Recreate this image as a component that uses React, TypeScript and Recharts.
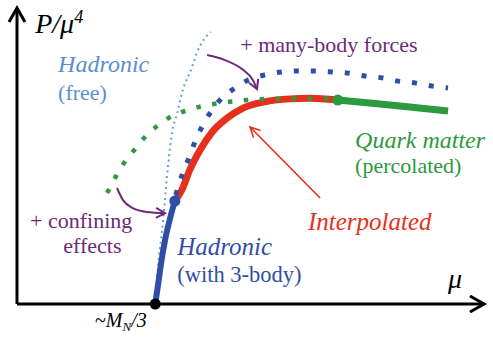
import { ComposedChart, Line, XAxis, YAxis, ReferenceDot } from 'recharts';

// [mu, P/mu^4] in schematic units, origin at the axes corner
const hadronicFree = [
  [2.96, 0], [3.02, 1.25], [3.13, 2.84], [3.21, 4.29], [3.32, 5.78],
  [3.43, 6.45], [3.55, 7.23], [3.75, 8.01], [3.85, 8.48], [4.15, 9.19],
];
const hadronic3Body = [
  [2.96, 0], [3.02, 0.64], [3.08, 1.32], [3.17, 2.16], [3.28, 2.91], [3.38, 3.48],
];
const interpolated = [
  [3.38, 3.48], [3.53, 3.85], [3.7, 4.53], [3.92, 5.2], [4.18, 5.81], [4.5, 6.28],
  [4.84, 6.62], [5.27, 6.82], [5.85, 6.93], [6.27, 6.95], [6.87, 6.89],
];
const quarkMatter = [[6.87, 6.89], [7.99, 6.72], [9.23, 6.52]];
const confiningEffects = [
  [1.93, 3.75], [2.1, 4.26], [2.29, 4.76], [2.51, 5.2], [2.74, 5.64], [3.0, 6.01],
  [3.32, 6.35], [3.66, 6.55], [3.98, 6.69], [4.35, 6.79], [4.71, 6.86], [5.46, 6.93],
  [6.17, 6.93], [6.87, 6.93],
];
const manyBodyForces = [
  [3.4, 3.68], [3.55, 4.43], [3.68, 4.93], [3.81, 5.47], [3.96, 5.98], [4.15, 6.49],
  [4.37, 6.93], [4.67, 7.3], [4.95, 7.57], [5.31, 7.74], [5.67, 7.84], [6.02, 7.87],
  [6.38, 7.87], [6.75, 7.84], [7.09, 7.8], [7.45, 7.7], [7.82, 7.64], [8.16, 7.53],
  [8.52, 7.47], [8.89, 7.36], [9.23, 7.3],
];

// annotation arrows
const manyBodyArrow = [[4.07, 8.41], [4.45, 8.24], [4.84, 7.91], [5.05, 7.57], [5.14, 7.26]];
const confiningArrow = [[2.14, 3.92], [2.27, 3.51], [2.48, 3.24], [2.78, 3.11], [3.17, 3.07]];
const interpolatedArrow = [[6.49, 3.58], [4.99, 5.98]];

const muAxis = [[0, 0], [10, 0]];
const pAxis = [[0, 0], [0, 10]];

const nuclearOnset = [2.96, 0];
const hadronicEnd = [3.38, 3.48];
const percolationPoint = [6.87, 6.89];

const toPoints = (pts: number[][]) => pts.map(([mu, p]) => ({ mu, p }));

const BLUE = '#2f4fa6';
const LIGHT_BLUE = '#6c9bd2';
const RED = '#e6301c';
const GREEN = '#2c9a3e';
const PURPLE = '#6c2a78';
const SERIF = 'Liberation Serif';

type Note = {
  x: number;
  y: number;
  color: string;
  italic?: boolean;
  size?: number;
  content: React.ReactNode;
};

const notes: Note[] = [
  {
    x: 0.39, y: 9.16, color: '#000', italic: true, size: 28,
    content: <>P/μ<tspan dy={-10} fontSize={18}>4</tspan></>,
  },
  { x: 0.88, y: 7.84, color: '#5b8ed0', italic: true, size: 24, content: 'Hadronic' },
  { x: 0.88, y: 6.89, color: '#5b8ed0', content: '(free)' },
  { x: 4.78, y: 8.51, color: PURPLE, content: '+ many-body forces' },
  { x: 7.24, y: 5.27, color: GREEN, italic: true, size: 24, content: 'Quark matter' },
  { x: 7.24, y: 4.43, color: GREEN, content: '(percolated)' },
  { x: 6.23, y: 2.5, color: RED, italic: true, size: 25, content: 'Interpolated' },
  { x: 3.43, y: 1.66, color: BLUE, italic: true, size: 25, content: 'Hadronic' },
  { x: 3.43, y: 0.74, color: BLUE, size: 22.5, content: '(with 3-body)' },
  { x: 0.28, y: 2.57, color: PURPLE, content: '+ confining' },
  { x: 0.99, y: 1.72, color: PURPLE, content: 'effects' },
  {
    x: 1.67, y: -0.78, color: '#000', size: 20,
    content: <>~<tspan fontStyle="italic">M</tspan><tspan fontStyle="italic" fontSize={13} dy={4}>N</tspan><tspan dy={-4} fontStyle="italic">/3</tspan></>,
  },
  { x: 9.23, y: 0.54, color: '#000', italic: true, size: 28, content: 'μ' },
];

function Markers() {
  return (
    <svg width={0} height={0} style={{ position: 'absolute' }}>
      <defs>
        <marker id="axisHead" markerUnits="userSpaceOnUse" viewBox="-18 -11 22 22"
          markerWidth={22} markerHeight={22} refX={0} refY={0} orient="auto">
          <path d="M -14 -8 L 0 0 L -14 8" fill="none" stroke="#000" strokeWidth={3} />
        </marker>
        <marker id="purpleHead" markerUnits="userSpaceOnUse" viewBox="-12 -8 16 16"
          markerWidth={16} markerHeight={16} refX={0} refY={0} orient="auto">
          <path d="M -9 -5 L 0 0 L -9 5" fill="none" stroke={PURPLE} strokeWidth={2} />
        </marker>
        <marker id="redHead" markerUnits="userSpaceOnUse" viewBox="-12 -8 16 16"
          markerWidth={16} markerHeight={16} refX={0} refY={0} orient="auto">
          <path d="M -10 -5 L 0 0 L -10 5" fill="none" stroke={RED} strokeWidth={1.6} />
        </marker>
      </defs>
    </svg>
  );
}

export default function App() {
  return (
    <div style={{ position: 'absolute', left: 0, top: 0, width: 493, height: 343, background: '#fff' }}>
      <Markers />
      <ComposedChart width={493} height={343} margin={{ top: 8, right: 9, bottom: 39, left: 17 }}>
        <XAxis type="number" dataKey="mu" domain={[0, 10]} hide />
        <YAxis type="number" dataKey="p" domain={[0, 10]} hide />

        <Line data={toPoints(muAxis)} dataKey="p" type="linear" stroke="#000" strokeWidth={3}
          dot={false} markerEnd="url(#axisHead)" isAnimationActive={false} />
        <Line data={toPoints(pAxis)} dataKey="p" type="linear" stroke="#000" strokeWidth={3}
          dot={false} markerEnd="url(#axisHead)" isAnimationActive={false} />

        <Line data={toPoints(hadronicFree)} dataKey="p" type="monotone" stroke={LIGHT_BLUE}
          strokeWidth={2} strokeDasharray="2 3.5" dot={false} isAnimationActive={false} />
        <Line data={toPoints(interpolated)} dataKey="p" type="monotone" stroke={RED}
          strokeWidth={7} dot={false} isAnimationActive={false} />
        <Line data={toPoints(hadronic3Body)} dataKey="p" type="monotone" stroke={BLUE}
          strokeWidth={6} dot={false} isAnimationActive={false} />
        <Line data={toPoints(quarkMatter)} dataKey="p" type="monotone" stroke={GREEN}
          strokeWidth={7} dot={false} isAnimationActive={false} />
        <Line data={toPoints(confiningEffects)} dataKey="p" type="monotone" stroke={GREEN}
          strokeWidth={4.5} strokeDasharray="4.5 11.5" dot={false} isAnimationActive={false} />
        <Line data={toPoints(manyBodyForces)} dataKey="p" type="monotone" stroke={BLUE}
          strokeWidth={5} strokeDasharray="5 12" dot={false} isAnimationActive={false} />

        <Line data={toPoints(manyBodyArrow)} dataKey="p" type="monotone" stroke={PURPLE}
          strokeWidth={2} dot={false} markerEnd="url(#purpleHead)" isAnimationActive={false} />
        <Line data={toPoints(confiningArrow)} dataKey="p" type="monotone" stroke={PURPLE}
          strokeWidth={2} dot={false} markerEnd="url(#purpleHead)" isAnimationActive={false} />
        <Line data={toPoints(interpolatedArrow)} dataKey="p" type="linear" stroke={RED}
          strokeWidth={1.6} dot={false} markerEnd="url(#redHead)" isAnimationActive={false} />

        <ReferenceDot x={nuclearOnset[0]} y={nuclearOnset[1]} r={5.5} fill="#000" stroke="none" ifOverflow="visible" />
        <ReferenceDot x={hadronicEnd[0]} y={hadronicEnd[1]} r={5.5} fill={BLUE} stroke="none" ifOverflow="visible" />
        <ReferenceDot x={percolationPoint[0]} y={percolationPoint[1]} r={5.5} fill={GREEN} stroke="none" ifOverflow="visible" />

        {notes.map((n, i) => (
          <ReferenceDot
            key={i}
            x={n.x}
            y={n.y}
            ifOverflow="visible"
            shape={(props: any) => (
              <text x={props.cx} y={props.cy} fill={n.color} fontFamily={SERIF}
                fontSize={n.size ?? 22} fontStyle={n.italic ? 'italic' : 'normal'}>
                {n.content}
              </text>
            )}
          />
        ))}
      </ComposedChart>
    </div>
  );
}
